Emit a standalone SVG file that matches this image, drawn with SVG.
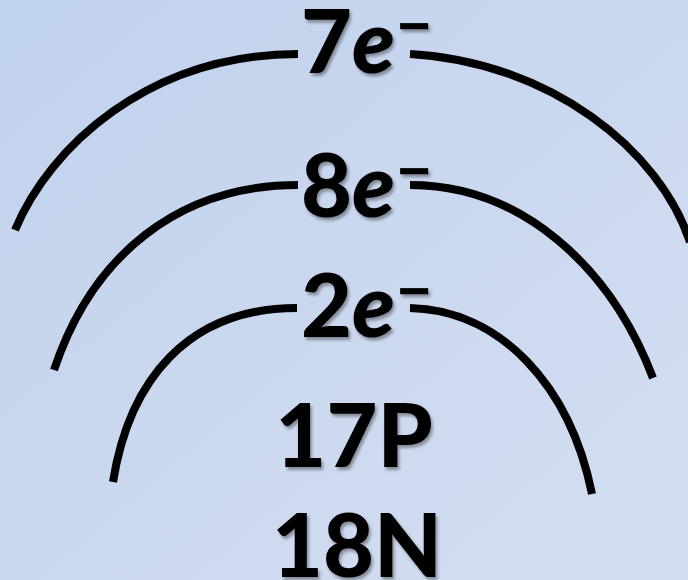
<svg xmlns="http://www.w3.org/2000/svg" width="688" height="580" viewBox="0 0 688 580">
  <defs>
    <linearGradient id="bg" x1="0" y1="0" x2="1" y2="1">
      <stop offset="0" stop-color="#c1d2ed"/>
      <stop offset="1" stop-color="#d3def1"/>
    </linearGradient>
    <filter id="sh" x="-20%" y="-40%" width="140%" height="180%">
      <feDropShadow dx="2" dy="3" stdDeviation="1.6" flood-color="#000" flood-opacity="0.35"/>
    </filter>
  </defs>
  <style>
    .arc { fill: none; stroke: #000; stroke-width: 8; stroke-linecap: butt; }
    .t { font-family: Lato, "Open Sans", "Liberation Sans", sans-serif; font-weight: 900; font-size: 88px; fill: #000; filter: url(#sh); }
    .it { font-style: italic; }
    .sup { font-family: "Liberation Sans", sans-serif; font-weight: bold; font-size: 56px; font-style: normal; }
  </style>
  <rect width="688" height="580" fill="url(#bg)"/>
  <g id="shells">
    <g id="outer">
      <path class="arc" d="M15,230 C49,148 148,54 298,54"/>
      <path class="arc" d="M410,54 C550,62 660,150 690,242"/>
    </g>
    <g id="middle">
      <path class="arc" d="M54,370 C92,256 178,185 298,185"/>
      <path class="arc" d="M410,185 C520,185 610,265 653,378"/>
    </g>
    <g id="inner">
      <path class="arc" d="M113,482 C129,381 187,308 297,308"/>
      <path class="arc" d="M410,308 C500,310 570,385 592,494"/>
    </g>
  </g>
  <g id="labels">
    <text class="t" y="73"><tspan x="301">7</tspan><tspan class="it">e</tspan><tspan class="sup" x="398" y="45">−</tspan></text>
    <text class="t" y="217"><tspan x="301">8</tspan><tspan class="it">e</tspan><tspan class="sup" x="398" y="190">−</tspan></text>
    <text class="t" y="337"><tspan x="301">2</tspan><tspan class="it">e</tspan><tspan class="sup" x="398" y="310">−</tspan></text>
    <text class="t" x="354" y="467" text-anchor="middle">17P</text>
    <text class="t" x="357" y="577" text-anchor="middle">18N</text>
  </g>
</svg>
